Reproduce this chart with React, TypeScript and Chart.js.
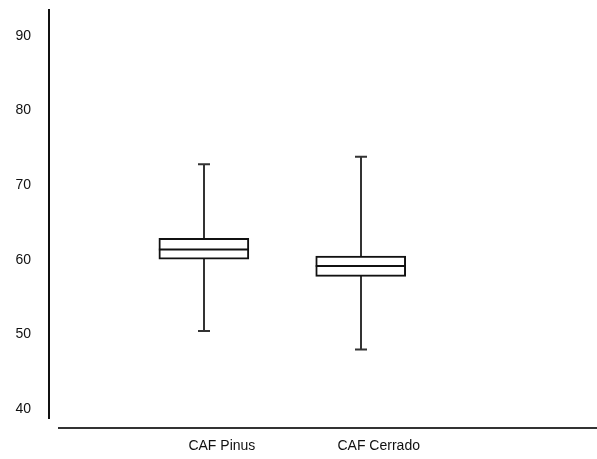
import React, { useEffect, useRef } from "react";
import { Chart, registerables } from "chart.js";

Chart.register(...registerables);

const categories = ["CAF Pinus", "CAF Cerrado"];
const mins = [50.5, 48.0];
const q1s = [60.1, 57.8];
const medians = [61.4, 59.2];
const q3s = [62.9, 60.5];
const maxs = [72.8, 73.8];
const yTickValues = [40, 50, 60, 70, 80, 90];

const FONT = { family: "'Liberation Sans', Arial, sans-serif", size: 14 };

const boxPlugin = {
  id: "boxWhiskers",
  beforeDatasetsDraw(chart: any) {
    const { ctx, scales } = chart;
    const xs = scales.x;
    const ys = scales.y;
    ctx.save();
    ctx.strokeStyle = "#333";
    ctx.lineWidth = 2;
    categories.forEach((_, i) => {
      const cx = Math.round(xs.getPixelForValue(i + 1));
      const yMin = ys.getPixelForValue(mins[i]);
      const yMax = ys.getPixelForValue(maxs[i]);
      ctx.beginPath();
      ctx.moveTo(cx, yMin);
      ctx.lineTo(cx, yMax);
      ctx.moveTo(cx - 6, yMin);
      ctx.lineTo(cx + 6, yMin);
      ctx.moveTo(cx - 6, yMax);
      ctx.lineTo(cx + 6, yMax);
      ctx.stroke();
    });
    ctx.restore();
  },
  afterDatasetsDraw(chart: any) {
    const { ctx, scales, chartArea } = chart;
    const xs = scales.x;
    const ys = scales.y;
    ctx.save();
    ctx.strokeStyle = "#111";
    ctx.lineWidth = 2;
    categories.forEach((_, i) => {
      const cx = xs.getPixelForValue(i + 1);
      const ym = ys.getPixelForValue(medians[i]);
      ctx.beginPath();
      ctx.moveTo(cx - 45, ym);
      ctx.lineTo(cx + 45, ym);
      ctx.stroke();
    });
    // axis lines
    ctx.strokeStyle = "#111";
    ctx.beginPath();
    ctx.moveTo(chartArea.left + 2, chartArea.top);
    ctx.lineTo(chartArea.left + 2, chartArea.bottom);
    ctx.stroke();
    ctx.strokeStyle = "#333";
    ctx.beginPath();
    ctx.moveTo(chartArea.left + 11, chartArea.bottom + 9);
    ctx.lineTo(chartArea.right + 1, chartArea.bottom + 9);
    ctx.stroke();
    ctx.restore();
  },
};

export default function App() {
  const ref = useRef<HTMLCanvasElement | null>(null);
  useEffect(() => {
    if (!ref.current) return;
    const chart = new Chart(ref.current, {
      type: "bar",
      data: {
        datasets: [
          {
            data: categories.map((_, i) => ({ x: i + 1, y: [q1s[i], q3s[i]] })) as any,
            backgroundColor: "#ffffff",
            borderColor: "#111",
            borderWidth: 2,
            borderSkipped: false,
            barThickness: 90,
          },
        ],
      },
      options: {
        responsive: false,
        animation: false,
        events: [],
        layout: { padding: { top: 9, right: 1, left: 0, bottom: 0 } },
        plugins: { legend: { display: false }, tooltip: { enabled: false } },
        scales: {
          x: {
            type: "linear",
            min: 0,
            max: 3.5,
            offset: false,
            grid: { display: false },
            border: { display: false },
            afterBuildTicks: (s: any) => {
              s.ticks = categories.map((_, i) => ({ value: i + 1 }));
            },
            afterFit: (s: any) => {
              s.height = 40;
              s.paddingLeft = 0;
              s.paddingRight = 0;
            },
            ticks: {
              font: FONT,
              color: "#111",
              padding: 11,
              labelOffset: 18,
              maxRotation: 0,
              autoSkip: false,
              callback: (v: any) => categories[Math.round(Number(v)) - 1] ?? "",
            },
          },
          y: {
            min: 38.7,
            max: 93.6,
            grid: { display: false },
            border: { display: false },
            afterBuildTicks: (s: any) => {
              s.ticks = yTickValues.map((v) => ({ value: v }));
            },
            afterFit: (s: any) => {
              s.width = 47;
              s.paddingTop = 0;
              s.paddingBottom = 0;
            },
            ticks: {
              font: FONT,
              color: "#111",
              padding: 8,
            },
          },
        },
      },
      plugins: [boxPlugin],
    });
    return () => chart.destroy();
  }, []);
  return (
    <div style={{ position: "absolute", left: 0, top: 0, width: 597, height: 459, background: "#fff" }}>
      <canvas ref={ref} width={597} height={459} />
    </div>
  );
}
